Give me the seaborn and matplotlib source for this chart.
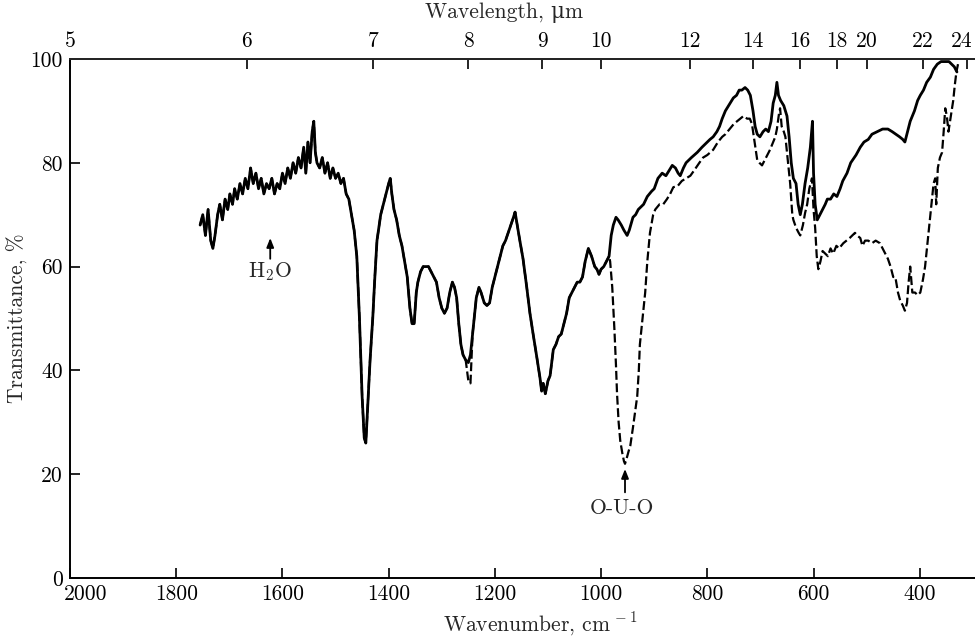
import matplotlib
matplotlib.use("Agg")
import matplotlib.pyplot as plt
import matplotlib.transforms as mtransforms
import seaborn as sns
import pandas as pd

# IR transmittance spectra
# solid curve (wavenumber, cm-1 / transmittance, %)
solid_nu = [1755, 1750, 1745, 1740, 1735, 1731, 1727, 1722, 1718, 1713, 1708, 1703,
            1699, 1694, 1690, 1685, 1680, 1675, 1670, 1665, 1660, 1655, 1650, 1645,
            1640, 1635, 1630, 1625, 1620, 1615, 1610, 1605, 1600, 1595, 1590, 1585,
            1580, 1575, 1570, 1565, 1560, 1556, 1552, 1548, 1544, 1541, 1538, 1535,
            1530, 1525, 1520, 1515, 1510, 1505, 1500, 1495, 1490, 1485, 1480, 1475,
            1470, 1465, 1460, 1455, 1450, 1446, 1443, 1440, 1435, 1430, 1426, 1422,
            1415, 1410, 1405, 1400, 1397, 1394, 1390, 1385, 1380, 1375, 1370, 1365,
            1360, 1356, 1352, 1348, 1345, 1340, 1335, 1330, 1325, 1320, 1315, 1310,
            1305, 1300, 1295, 1290, 1285, 1280, 1276, 1272, 1268, 1264, 1260, 1255,
            1250, 1246, 1242, 1238, 1235, 1230, 1226, 1220, 1215, 1210, 1205, 1200,
            1195, 1190, 1185, 1180, 1175, 1170, 1165, 1162, 1158, 1153, 1147, 1140,
            1134, 1128, 1121, 1115, 1112, 1109, 1105, 1100, 1096, 1090, 1085, 1080,
            1075, 1070, 1065, 1060, 1055, 1050, 1045, 1040, 1035, 1030, 1024, 1018,
            1012, 1008, 1004, 1000, 995, 990, 985, 981, 977, 972, 968, 962,
            957, 951, 947, 940, 935, 930, 925, 920, 913, 905, 900, 893,
            885, 878, 872, 866, 860, 855, 851, 845, 840, 830, 819, 810,
            800, 795, 789, 782, 777, 772, 766, 760, 751, 745, 740, 735,
            729, 724, 719, 714, 710, 706, 701, 695, 690, 685, 680, 676,
            672, 669, 666, 662, 656, 650, 646, 642, 638, 633, 629, 625,
            621, 616, 611, 606, 602, 600, 597, 593, 588, 583, 578, 574,
            568, 562, 556, 550, 545, 537, 530, 520, 512, 505, 497, 490,
            480, 470, 460, 452, 445, 438, 432, 428, 423, 418, 410, 404,
            399, 393, 387, 380, 374, 367, 360, 352, 345, 340, 335, 330]
solid_t = [68, 70, 66, 71, 65, 63.5, 66, 70, 72, 69, 73, 71,
           74, 72, 75, 73, 76, 74, 77, 75, 79, 76, 78, 75,
           77, 74, 76, 75, 77, 74, 76, 75, 78, 76, 79, 77,
           80, 78, 81, 79, 83, 78, 84, 80, 86, 88, 82, 80,
           79, 81, 78, 80, 77, 79, 77, 78, 76, 77, 74, 73,
           70, 67, 62, 50, 35, 27, 26, 32, 42, 50, 58, 65,
           70, 72, 74, 76, 77, 74, 71, 69, 66, 64, 61, 58,
           52, 49, 49, 55, 57, 59, 60, 60, 60, 59, 58, 57,
           54, 52, 51, 52, 55, 57, 56, 54, 49, 45, 43, 42,
           41.5, 43, 47, 51, 54, 56, 55, 53, 52.5, 53, 56, 58,
           60, 62, 64, 65, 66.5, 68, 69.5, 70.5, 68, 65, 61.5, 56,
           51, 47, 42.5, 38.5, 36, 37.5, 35.5, 38, 39, 44, 45, 46.5,
           47, 49, 51, 54, 55, 56, 57, 57, 58, 61, 63.5, 62,
           60, 59.5, 58.5, 59.5, 60, 61, 62, 66, 68, 69.5, 69, 68,
           67, 66, 67, 69.5, 70, 71, 71.5, 72, 73.5, 74.5, 75, 77,
           78, 77.5, 78.5, 79.5, 79, 78, 77.5, 79, 80, 81, 82, 83,
           84, 84.5, 85, 86, 87, 88.5, 90, 91, 92.5, 93, 94, 94,
           94.5, 94, 93, 90, 87, 85.5, 85, 86, 86.5, 86, 88, 91.5,
           93, 95.5, 93, 92, 91, 89, 85, 80, 77, 76, 72, 70,
           72, 76, 79, 83, 88, 78, 72, 69, 70, 71, 72, 73,
           73, 74, 73.5, 75, 76.5, 78, 80, 81.5, 83, 84, 84.5, 85.5,
           86, 86.5, 86.5, 86, 85.5, 85, 84.5, 84, 86, 88, 90, 92,
           93, 94, 95.5, 96.5, 98, 99, 99.5, 99.5, 99.5, 99, 98.5, 97.5]

# dashed curve: follows the solid one above 985 cm-1 except at these dips
dashed_dips = {1628: 70, 1623: 67, 1618: 68.5, 1250: 38, 1246: 37.5}
dashed_nu = [983, 979, 975, 972, 970, 967, 964, 960, 957, 955, 952, 948,
             945, 940, 936, 932, 929, 927, 922, 917, 913, 908, 902, 898,
             890, 883, 876, 870, 864, 856, 848, 840, 832, 825, 815, 808,
             800, 789, 780, 772, 766, 758, 750, 744, 738, 732, 725, 720,
             716, 711, 706, 702, 697, 692, 687, 682, 676, 672, 669, 665,
             663, 660, 656, 653, 648, 644, 640, 638, 633, 628, 625, 620,
             616, 612, 608, 603, 600, 597, 594, 591, 587, 583, 578, 573,
             568, 563, 557, 552, 544, 538, 532, 527, 522, 518, 512, 508,
             503, 497, 490, 483, 475, 470, 465, 460, 455, 450, 446, 441,
             437, 432, 428, 424, 421, 418, 414, 409, 404, 399, 394, 390,
             386, 384, 380, 377, 374, 371, 369, 366, 362, 358, 355, 352,
             349, 346, 343, 340, 337, 334, 331, 328]
dashed_t = [61, 56, 48, 41, 35.5, 30, 26.5, 24, 22.5, 22, 23, 24.5,
            25.5, 29, 32, 35, 40, 45, 50, 55, 61, 66.5, 70, 71,
            72, 72, 73, 74, 75.3, 75.5, 76.5, 77, 77.5, 78.5, 80, 81,
            81.5, 82.5, 84, 85, 85.5, 86.5, 87.5, 88, 88.5, 89, 88.5, 88.5,
            87.5, 84, 80.5, 80, 79.5, 80.5, 81.5, 82.5, 84, 85, 86.5, 89.5,
            90.5, 87, 86, 85, 80, 76, 70, 69, 67.5, 66.5, 66, 68,
            70.3, 72, 75, 77, 71, 67.5, 62, 59.5, 61, 63, 62.5, 62,
            63.5, 62.5, 64, 63.5, 64.5, 65, 65.5, 66, 66.5, 66, 65.5, 64,
            65, 65, 64.5, 65, 64.5, 63.5, 62.5, 61.5, 60, 58, 58, 55,
            53.5, 52.5, 51.5, 53, 57, 60, 55, 55, 54.5, 55, 57.5, 60,
            64, 66, 70, 73, 76, 77, 72, 79, 81, 82, 86, 90.5,
            89, 86, 88, 90, 92, 95, 97.5, 99]

bottom_ticks = [2000, 1800, 1600, 1400, 1200, 1000, 800, 600, 400]
y_ticks = [0, 20, 40, 60, 80, 100]
# top axis: wavelength labels and the wavenumbers where they sit in the picture
wl_labels = ["5", "6", "7", "8", "9", "10", "12", "14", "16", "18", "20", "22", "24"]
wl_pos = [2000, 1667, 1429, 1250, 1111, 1000, 833, 714, 625, 556, 500, 394, 311]

solid = pd.DataFrame({"nu": solid_nu, "T": solid_t})
common = solid[solid["nu"] >= 985].copy()
common["T"] = [dashed_dips.get(n, t) for n, t in zip(common["nu"], common["T"])]
dashed = pd.concat([common, pd.DataFrame({"nu": dashed_nu, "T": dashed_t})],
                   ignore_index=True)

sns.set_theme(style="ticks")
plt.rcParams["font.family"] = ["cmr10", "DejaVu Serif"]
plt.rcParams["mathtext.fontset"] = "cm"
plt.rcParams["axes.unicode_minus"] = False
fs = 15.5


def shift_label(label, dx):
    # nudge a tick label sideways (inches)
    label.set_transform(label.get_transform() +
                        mtransforms.ScaledTranslation(dx, 0, fig.dpi_scale_trans))


fig = plt.figure(figsize=(9.75, 6.39), dpi=100)
ax = fig.add_axes([0.0718, 0.0955, 0.9282, 0.8122])

sns.lineplot(data=dashed, x="nu", y="T", color="black", lw=1.6,
             linestyle=(0, (4, 1.6)), estimator=None, sort=False, ax=ax)
sns.lineplot(data=solid, x="nu", y="T", color="black", lw=2.0,
             estimator=None, sort=False, ax=ax)

ax.set_xlim(2000, 296)
ax.set_ylim(0, 100)
ax.set_xticks(bottom_ticks)
ax.set_xticklabels([str(t) for t in bottom_ticks], fontsize=fs)
ax.set_yticks(y_ticks)
ax.set_yticklabels([str(t) for t in y_ticks], fontsize=fs)
ax.tick_params(direction="in", length=7, width=1.2, pad=5, colors="black")
# the 2000 label sits a little to the right, clear of the 0
shift_label(ax.get_xticklabels()[0], 0.16)
ax.spines["right"].set_visible(False)
for s in ["left", "bottom", "top"]:
    ax.spines[s].set_linewidth(1.4)
    ax.spines[s].set_color("black")

ax.set_xlabel("Wavenumber, cm$^{\\,-1}$", fontsize=fs)
ax.xaxis.set_label_coords(0.52, -0.062)
ax.set_ylabel("Transmittance, %", fontsize=fs)
ax.yaxis.set_label_coords(-0.046, 0.5)

top = ax.twiny()
top.set_xlim(ax.get_xlim())
top.set_xticks(wl_pos)
top.set_xticklabels(wl_labels, fontsize=fs)
top.tick_params(direction="in", length=7, width=1.2, pad=6, colors="black")
shift_label(top.get_xticklabels()[-1], -0.05)
for s in ["left", "right", "bottom"]:
    top.spines[s].set_visible(False)
top.spines["top"].set_linewidth(1.4)
top.set_xlabel("Wavelength, μm", fontsize=fs)
top.xaxis.set_label_coords(0.48, 1.078)

arrow = dict(arrowstyle="-|>,head_length=0.45,head_width=0.18", color="black",
             lw=1.3, shrinkA=0, shrinkB=0)
ax.annotate("", xy=(1623, 65.5), xytext=(1623, 61.5), arrowprops=arrow)
ax.text(1623, 59, "H$_2$O", fontsize=fs, ha="center", va="center")
ax.annotate("", xy=(955, 21), xytext=(955, 16.5), arrowprops=arrow)
ax.text(960, 13.5, "O-U-O", fontsize=fs, ha="center", va="center")

fig.savefig("out.png", dpi=100)
